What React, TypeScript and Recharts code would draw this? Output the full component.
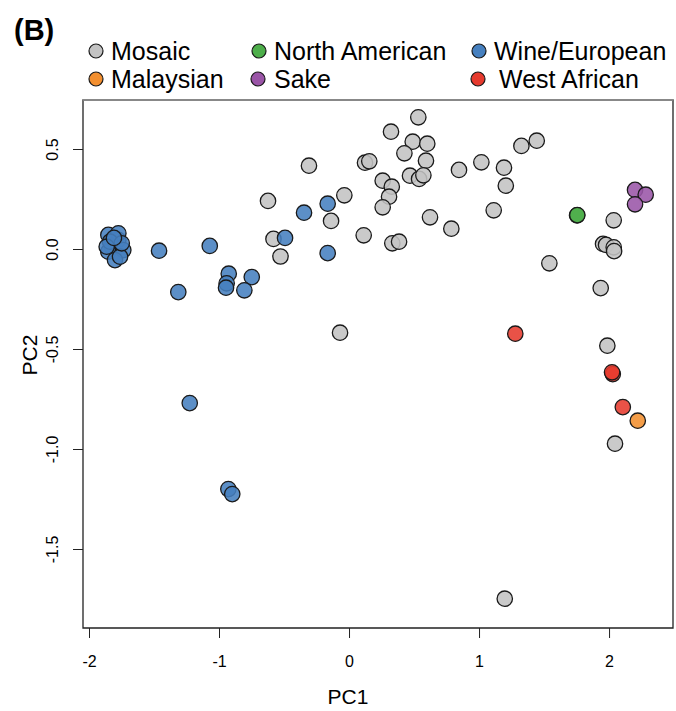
import React from "react";
import { ScatterChart, Scatter, XAxis, YAxis, ReferenceArea, ReferenceLine } from "recharts";

type P = { x: number; y: number };

const mosaic: P[] = [
  { x: 0.529, y: 0.661 }, { x: 0.319, y: 0.589 }, { x: 0.486, y: 0.539 }, { x: 0.598, y: 0.529 },
  { x: 0.422, y: 0.481 }, { x: 0.588, y: 0.444 }, { x: -0.312, y: 0.419 }, { x: 0.119, y: 0.434 },
  { x: 0.152, y: 0.441 }, { x: 0.465, y: 0.369 }, { x: 0.535, y: 0.353 }, { x: 0.568, y: 0.371 },
  { x: 0.255, y: 0.344 }, { x: 0.325, y: 0.314 }, { x: 0.304, y: 0.264 }, { x: 0.255, y: 0.211 },
  { x: 0.842, y: 0.398 }, { x: 1.014, y: 0.436 }, { x: 1.188, y: 0.409 }, { x: 1.202, y: 0.319 },
  { x: 1.322, y: 0.518 }, { x: 1.44, y: 0.544 }, { x: 1.109, y: 0.196 }, { x: 0.619, y: 0.161 },
  { x: 0.783, y: 0.104 }, { x: -0.04, y: 0.271 }, { x: -0.142, y: 0.143 }, { x: 0.109, y: 0.071 },
  { x: 0.329, y: 0.031 }, { x: 0.381, y: 0.039 }, { x: -0.627, y: 0.243 }, { x: -0.585, y: 0.053 },
  { x: -0.531, y: -0.035 }, { x: -0.073, y: -0.416 }, { x: 1.537, y: -0.069 }, { x: 2.032, y: 0.146 },
  { x: 1.95, y: 0.028 }, { x: 1.973, y: 0.023 }, { x: 2.032, y: 0.011 }, { x: 2.035, y: -0.008 },
  { x: 1.932, y: -0.193 }, { x: 1.983, y: -0.481 }, { x: 2.042, y: -0.971 }, { x: 1.194, y: -1.746 },
];

const wine: P[] = [
  { x: -0.35, y: 0.184 }, { x: -0.168, y: 0.229 }, { x: -0.496, y: 0.058 }, { x: -0.168, y: -0.018 },
  { x: -1.229, y: -0.768 }, { x: -0.932, y: -1.198 }, { x: -0.902, y: -1.223 }, { x: -1.465, y: -0.006 },
  { x: -1.075, y: 0.018 }, { x: -0.929, y: -0.121 }, { x: -0.945, y: -0.169 }, { x: -0.95, y: -0.191 },
  { x: -0.752, y: -0.138 }, { x: -0.809, y: -0.204 }, { x: -1.317, y: -0.213 },
  { x: -1.855, y: 0.073 }, { x: -1.778, y: 0.048 }, { x: -1.829, y: 0.014 }, { x: -1.74, y: -0.003 },
  { x: -1.855, y: -0.011 }, { x: -1.804, y: -0.053 }, { x: -1.765, y: -0.036 }, { x: -1.778, y: 0.081 },
  { x: -1.842, y: 0.039 }, { x: -1.752, y: 0.031 }, { x: -1.868, y: 0.014 }, { x: -1.812, y: 0.058 },
];

const northAmerican: P[] = [{ x: 1.75, y: 0.171 }, { x: 1.752, y: 0.172 }];
const sake: P[] = [{ x: 2.196, y: 0.298 }, { x: 2.278, y: 0.274 }, { x: 2.196, y: 0.226 }];
const westAfrican: P[] = [{ x: 1.275, y: -0.421 }, { x: 2.025, y: -0.623 }, { x: 2.019, y: -0.614 }, { x: 2.102, y: -0.788 }];
const malaysian: P[] = [{ x: 2.217, y: -0.856 }];

const xTicks = [-2, -1, 0, 1, 2];
const yTicks = [0.5, 0, -0.5, -1, -1.5];
const yTickLabels = ["0.5", "0.0", "-0.5", "-1.0", "-1.5"];

const FONT = "'Liberation Sans', Arial, Helvetica, sans-serif";

const series = [
  { name: "Mosaic", data: mosaic, color: "#c3c3c3" },
  { name: "Wine/European", data: wine, color: "#4680bf" },
  { name: "North American", data: northAmerican, color: "#4dae4a" },
  { name: "Sake", data: sake, color: "#9a55a7" },
  { name: "West African", data: westAfrican, color: "#e63a2e" },
  { name: "Malaysian", data: malaysian, color: "#f38f2f" },
];

const legendItems = [
  { name: "Mosaic", color: "#c3c3c3", cx: 96, tx: 111, cy: 51 },
  { name: "North American", color: "#4dae4a", cx: 259, tx: 274, cy: 51 },
  { name: "Wine/European", color: "#4680bf", cx: 479, tx: 494, cy: 51 },
  { name: "Malaysian", color: "#f38f2f", cx: 96, tx: 111, cy: 79 },
  { name: "Sake", color: "#9a55a7", cx: 258, tx: 274, cy: 79 },
  { name: "West African", color: "#e63a2e", cx: 478, tx: 499, cy: 79 },
];

const makeShape = (color: string) => (props: any) => (
  <circle cx={props.cx} cy={props.cy} r={7.7} fill={color} fillOpacity={0.88} stroke="#1a1a1a" strokeWidth={1.3} />
);

const XTick = (p: any) => (
  <text x={p.x} y={p.y + 21} textAnchor="middle" dominantBaseline="central" fontSize={16} fontFamily={FONT} fill="#000">
    {p.payload.value}
  </text>
);

const YTick = (p: any) => {
  const idx = yTicks.indexOf(p.payload.value);
  const label = idx >= 0 ? yTickLabels[idx] : String(p.payload.value);
  return (
    <text transform={`translate(${p.x - 19},${p.y}) rotate(-90)`} textAnchor="middle" dominantBaseline="central" fontSize={16} fontFamily={FONT} fill="#000">
      {label}
    </text>
  );
};

export default function App() {
  const xDom: [number, number] = [-2.05, 2.488];
  const yDom: [number, number] = [-1.8925, 0.7475];
  return (
    <div style={{ position: "absolute", left: 0, top: 0, width: 676, height: 711, background: "#fff" }}>
      <ScatterChart width={676} height={711} margin={{ top: 100, right: 3, bottom: 0, left: 0 }}>
        <XAxis
          type="number"
          dataKey="x"
          domain={xDom}
          ticks={xTicks}
          allowDataOverflow
          axisLine={false}
          tickLine={{ stroke: "#222", strokeWidth: 1 }}
          tickSize={10}
          tick={<XTick />}
          height={83}
          interval={0}
        />
        <YAxis
          type="number"
          dataKey="y"
          domain={yDom}
          ticks={yTicks}
          allowDataOverflow
          axisLine={false}
          tickLine={{ stroke: "#222", strokeWidth: 1 }}
          tickSize={10}
          tick={<YTick />}
          width={83}
          interval={0}
        />
        <ReferenceArea x1={xDom[0]} x2={xDom[1]} y1={yDom[0]} y2={yDom[1]} fill="none" stroke="#222" strokeWidth={1.3} ifOverflow="extendDomain" />
        <ReferenceLine y={yDom[1]} stroke="#999" strokeWidth={1.5} />
        {series.map((s) => (
          <Scatter key={s.name} name={s.name} data={s.data} isAnimationActive={false} shape={makeShape(s.color)} />
        ))}
      </ScatterChart>
      <svg width={676} height={711} style={{ position: "absolute", left: 0, top: 0, pointerEvents: "none" }}>
        <text x={14} y={40} fontSize={29} fontWeight="bold" fontFamily={FONT} fill="#000">(B)</text>
        {legendItems.map((l) => (
          <g key={l.name}>
            <circle cx={l.cx} cy={l.cy} r={7} fill={l.color} stroke="#1a1a1a" strokeWidth={1.2} />
            <text x={l.tx} y={l.cy} dominantBaseline="central" fontSize={25} fontFamily={FONT} fill="#000">{l.name}</text>
          </g>
        ))}
        <text x={348} y={696} textAnchor="middle" dominantBaseline="central" fontSize={21} fontFamily={FONT} fill="#000">PC1</text>
        <text transform="translate(29,355) rotate(-90)" textAnchor="middle" dominantBaseline="central" fontSize={21} fontFamily={FONT} fill="#000">PC2</text>
      </svg>
    </div>
  );
}
